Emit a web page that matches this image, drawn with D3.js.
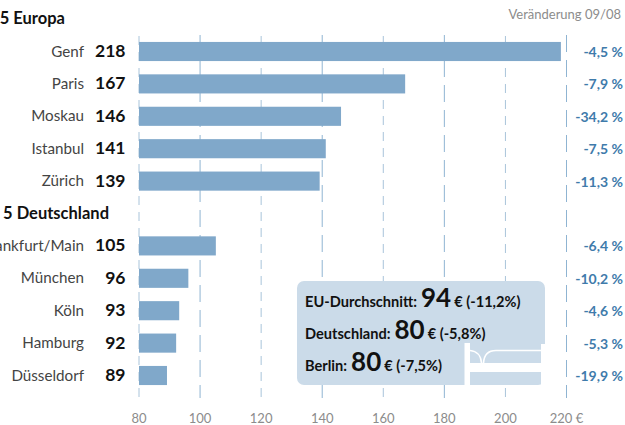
<!DOCTYPE html>
<html><head><meta charset="utf-8">
<script src="https://cdn.jsdelivr.net/npm/d3@7"></script>
<style>html,body{margin:0;padding:0;background:#fff}svg{display:block}text{font-family:Lato,"Open Sans",sans-serif}</style>
</head><body><svg id="c" width="625" height="425"></svg>
<script>
const categories=["Genf","Paris","Moskau","Istanbul","Zürich","","Frankfurt/Main","München","Köln","Hamburg","Düsseldorf"];
const values=[218,167,146,141,139,null,105,96,93,92,89];
const changes=["-4,5 %","-7,9 %","-34,2 %","-7,5 %","-11,3 %","","-6,4 %","-10,2 %","-4,6 %","-5,3 %","-19,9 %"];
const ticks=[80,100,120,140,160,180,200,220];
const headings=["Top 5 Europa","Top 5 Deutschland"];
const boxLabels=["EU-Durchschnitt:","Deutschland:","Berlin:"];
const boxValues=[94,80,80];
const boxChanges=["€ (-11,2%)","€ (-5,8%)","€ (-7,5%)"];

const svg=d3.select("#c");
const x=d3.scaleLinear().domain([80,220]).range([139,566.5]);
const y=d3.scaleBand().domain(d3.range(categories.length)).range([35.3,391.7]).paddingInner(0.41).paddingOuter(0.205);
const blue="#80a8ca",dark="#111",grey="#8c8c8c",txt="#444",pct="#3f7bab";

ticks.forEach((t,i)=>{
  svg.append("line").attr("x1",x(t)).attr("x2",x(t)).attr("y1",i%2?35:36).attr("y2",398)
    .attr("stroke",i%2?"#8fb4d2":"#a9c4da").attr("stroke-width",1)
    .attr("stroke-dasharray",i%2?"17 8":"9 7");
});
svg.selectAll("rect.bar").data(values.map((v,i)=>({v,i})).filter(d=>d.v!=null)).join("rect").attr("class","bar")
  .attr("x",x(80)).attr("y",d=>y(d.i)).attr("width",d=>x(d.v)-x(80)+0.5).attr("height",y.bandwidth()).attr("fill",blue);

const cy=i=>y(i)+y.bandwidth()/2+5;
categories.forEach((c,i)=>{
  if(!c)return;
  svg.append("text").attr("x",84).attr("y",cy(i)).attr("text-anchor","end").attr("font-size",15.2).attr("fill",txt).text(c);
  svg.append("text").attr("x",125.5).attr("y",cy(i)+0.5).attr("text-anchor","end").attr("font-size",17.5).attr("font-weight",700).attr("fill",dark).text(values[i]);
  svg.append("text").attr("x",623).attr("y",cy(i)+0.5).attr("text-anchor","end").attr("font-size",14).attr("font-weight",700).attr("fill",pct).text(changes[i]);
});
[[65,24,headings[0]],[109,219,headings[1]]].forEach(([xx,yy,t])=>{
  svg.append("text").attr("x",xx).attr("y",yy).attr("text-anchor","end").attr("font-size",16.5).attr("font-weight",700).attr("fill",dark).text(t);
});
svg.append("text").attr("x",621).attr("y",19).attr("text-anchor","end").attr("font-size",13).attr("fill",grey).text("Veränderung 09/08");

const axisY=423;
ticks.forEach(t=>{
  svg.append("text").attr("x",x(t)).attr("y",axisY).attr("text-anchor","middle").attr("font-size",13).attr("fill",grey).text(t===220?"220 €":t);
});

svg.append("rect").attr("x",297).attr("y",281).attr("width",248).attr("height",104).attr("rx",7).attr("fill","#cbdbe9");
[[307,0],[339,1],[371,2]].forEach(([yy,i])=>{
  const t=svg.append("text").attr("x",305).attr("y",yy).attr("fill",dark).attr("font-weight",700).attr("font-size",14.6);
  t.append("tspan").text(boxLabels[i]);
  t.append("tspan").attr("dx",4).attr("font-size",26).text(boxValues[i]);
  t.append("tspan").attr("dx",3).text(boxChanges[i]);
});
// bed icon
const g=svg.append("g").attr("fill","#fff");
g.append("rect").attr("x",464.5).attr("y",343).attr("width",5.5).attr("height",43);
g.append("rect").attr("x",470).attr("y",363).attr("width",72).attr("height",9);
g.append("rect").attr("x",541).attr("y",344).attr("width",5).attr("height",42);
g.append("path").attr("fill","none").attr("stroke","#fff").attr("stroke-width",1.6)
  .attr("d","M470 350.5C477 351 481 356 481.5 363M483.5 363C484 355 488 350.5 496 350.5L541 350.5");
</script></body></html>
